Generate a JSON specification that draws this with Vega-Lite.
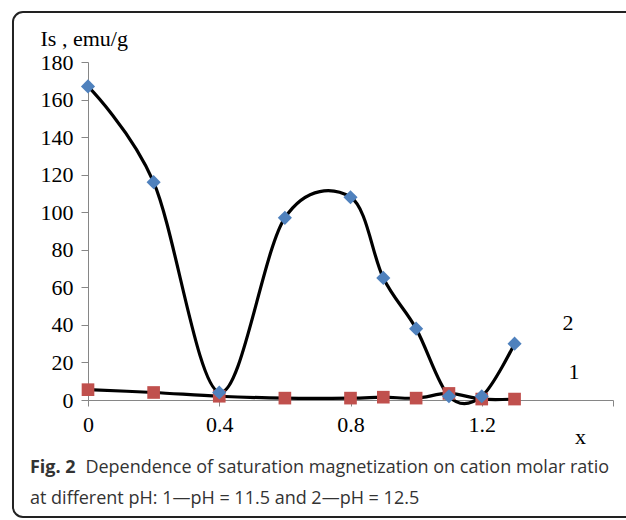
{
  "$schema": "https://vega.github.io/schema/vega-lite/v6.json",
  "autosize": "none",
  "width": 525,
  "height": 338,
  "padding": {"left": 88, "top": 62, "right": 13, "bottom": 120},
  "background": "white",
  "config": {"view": {"stroke": null}, "axis": {"grid": false, "labelOverlap": false, "labelFlush": false, "labelBound": false}},
  "datasets": {
    "mag": [
      {"x": 0, "y": 5.5, "s": "1"},
      {"x": 0.2, "y": 4, "s": "1"},
      {"x": 0.4, "y": 2, "s": "1"},
      {"x": 0.6, "y": 1, "s": "1"},
      {"x": 0.8, "y": 1, "s": "1"},
      {"x": 0.9, "y": 1.5, "s": "1"},
      {"x": 1.0, "y": 1, "s": "1"},
      {"x": 1.1, "y": 3.5, "s": "1"},
      {"x": 1.2, "y": 0.5, "s": "1"},
      {"x": 1.3, "y": 0.5, "s": "1"},
      {"x": 0, "y": 167, "s": "2"},
      {"x": 0.2, "y": 116, "s": "2"},
      {"x": 0.4, "y": 4, "s": "2"},
      {"x": 0.6, "y": 97, "s": "2"},
      {"x": 0.8, "y": 108, "s": "2"},
      {"x": 0.9, "y": 65, "s": "2"},
      {"x": 1.0, "y": 38, "s": "2"},
      {"x": 1.1, "y": 2, "s": "2"},
      {"x": 1.2, "y": 2, "s": "2"},
      {"x": 1.3, "y": 30, "s": "2"}
    ]
  },
  "layer": [
    {
      "data": {"name": "mag"},
      "mark": {"type": "line", "interpolate": "cardinal", "color": "black", "strokeWidth": 3.2},
      "encoding": {
        "x": {
          "field": "x", "type": "quantitative", "title": "x",
          "scale": {"domain": [0, 1.6], "nice": false},
          "axis": {
            "values": [0, 0.4, 0.8, 1.2, 1.6],
            "labelExpr": "datum.value > 1.5 ? '' : format(datum.value, '~g')",
            "labelOverlap": false, "labelFlush": false,
            "labelFont": "Liberation Serif", "labelFontSize": 22, "labelColor": "black",
            "labelPadding": 8, "tickSize": 6, "tickColor": "#868686", "domainColor": "#868686",
            "titleFont": "Liberation Serif", "titleFontSize": 22, "titleFontWeight": "normal",
            "titleColor": "black", "titleX": 492, "titleY": 43, "titleBaseline": "alphabetic", "titleAlign": "center"
          }
        },
        "y": {
          "field": "y", "type": "quantitative", "title": "Is , emu/g",
          "scale": {"domain": [0, 180], "nice": false},
          "axis": {
            "values": [0, 20, 40, 60, 80, 100, 120, 140, 160, 180],
            "tickCount": 10,
            "labelOverlap": false, "labelFlush": false, "labelSeparation": 0,
            "labelFont": "Liberation Serif", "labelFontSize": 22, "labelColor": "black",
            "labelPadding": 8, "tickSize": 7, "tickColor": "#868686", "domainColor": "#868686",
            "titleFont": "Liberation Serif", "titleFontSize": 22, "titleFontWeight": "normal",
            "titleColor": "black", "titleAngle": 0, "titleX": -48, "titleY": -17, "titleAlign": "left", "titleBaseline": "alphabetic"
          }
        },
        "detail": {"field": "s"}
      }
    },
    {
      "data": {"name": "mag"},
      "mark": {"type": "point", "filled": true, "opacity": 1},
      "encoding": {
        "x": {"field": "x", "type": "quantitative", "title": "x"},
        "y": {"field": "y", "type": "quantitative", "title": "Is , emu/g"},
        "shape": {"field": "s", "scale": {"domain": ["1", "2"], "range": ["square", "diamond"]}, "legend": null},
        "color": {"field": "s", "scale": {"domain": ["1", "2"], "range": ["#C0504D", "#4F81BD"]}, "legend": null},
        "size": {"field": "s", "scale": {"domain": ["1", "2"], "range": [160, 200]}, "legend": null}
      }
    },
    {
      "data": {"values": [{"t": "2", "x": 1.463, "y": 41}, {"t": "1", "x": 1.481, "y": 14.9}]},
      "mark": {"type": "text", "font": "Liberation Serif", "fontSize": 22, "color": "black", "align": "center", "baseline": "middle"},
      "encoding": {
        "x": {"field": "x", "type": "quantitative", "title": "x"},
        "y": {"field": "y", "type": "quantitative", "title": "Is , emu/g"},
        "text": {"field": "t"}
      }
    },
    {
      "data": {"values": [{}]},
      "mark": {"type": "text", "text": "Fig. 2", "font": "Open Sans", "fontWeight": "bold", "fontSize": 18, "color": "#333333", "align": "left", "baseline": "middle"},
      "encoding": {
        "x": {"datum": -0.1768, "type": "quantitative", "title": "x"},
        "y": {"datum": -36.2, "type": "quantitative", "title": "Is , emu/g"}
      }
    },
    {
      "data": {"values": [{}]},
      "mark": {"type": "text", "text": "Dependence of saturation magnetization on cation molar ratio", "font": "Open Sans", "fontSize": 18, "color": "#333333", "align": "left", "baseline": "middle"},
      "encoding": {
        "x": {"datum": -0.008, "type": "quantitative", "title": "x"},
        "y": {"datum": -36.2, "type": "quantitative", "title": "Is , emu/g"}
      }
    },
    {
      "data": {"values": [{}]},
      "mark": {"type": "text", "text": "at different pH: 1\u2014pH = 11.5 and 2\u2014pH = 12.5", "font": "Open Sans", "fontSize": 18, "color": "#333333", "align": "left", "baseline": "middle"},
      "encoding": {
        "x": {"datum": -0.1768, "type": "quantitative", "title": "x"},
        "y": {"datum": -52.6, "type": "quantitative", "title": "Is , emu/g"}
      }
    },
    {
      "data": {"values": [{}]},
      "mark": {"type": "rect", "fill": null, "stroke": "#222222", "strokeWidth": 2, "cornerRadius": 10},
      "encoding": {
        "x": {"datum": -0.2286, "type": "quantitative", "title": "x"},
        "x2": {"datum": 1.72},
        "y": {"datum": 206.6, "type": "quantitative", "title": "Is , emu/g"},
        "y2": {"datum": -62.3}
      }
    }
  ]
}
